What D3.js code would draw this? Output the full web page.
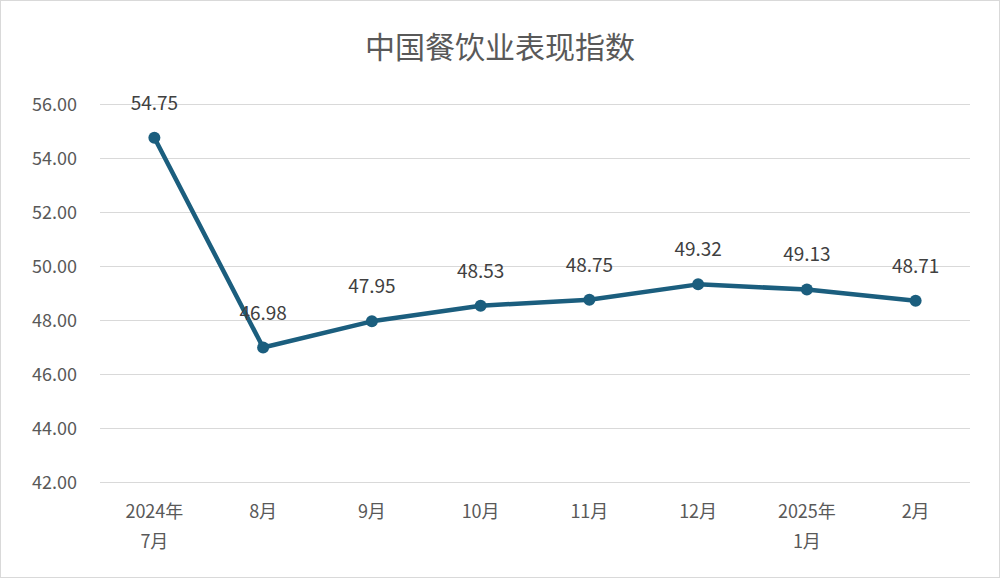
<!DOCTYPE html>
<html>
<head>
<meta charset="utf-8">
<script src="https://cdn.jsdelivr.net/npm/d3@7"></script>
<style>
  body { margin: 0; background: #fff; }
  svg { font-family: "Noto Sans CJK SC", "Noto Sans", sans-serif; }
</style>
</head>
<body>
<svg id="chart" width="1000" height="578"></svg>
<script>
var categories = [["2024年", "7月"], ["8月"], ["9月"], ["10月"], ["11月"], ["12月"], ["2025年", "1月"], ["2月"]];
var values = [54.75, 46.98, 47.95, 48.53, 48.75, 49.32, 49.13, 48.71];
var yTicks = [42, 44, 46, 48, 50, 52, 54, 56];

var svg = d3.select("#chart");
svg.append("rect").attr("x", 0.5).attr("y", 0.5).attr("width", 999).attr("height", 577)
  .attr("fill", "#fff").attr("stroke", "#d9d9d9");

var x = d3.scaleBand().domain(d3.range(categories.length)).range([100, 970]);
var y = d3.scaleLinear().domain([42, 56]).range([482, 104]);

svg.append("text").attr("x", 500).attr("y", 58).attr("text-anchor", "middle")
  .attr("font-size", 30).attr("fill", "#595959").text("中国餐饮业表现指数");

svg.append("g").selectAll("line").data(yTicks).join("line")
  .attr("x1", 100).attr("x2", 970)
  .attr("y1", d => y(d) + 0.5).attr("y2", d => y(d) + 0.5)
  .attr("stroke", "#d9d9d9").attr("stroke-width", 1);

svg.append("g").selectAll("text").data(yTicks).join("text")
  .attr("x", 77).attr("y", d => y(d) + 7).attr("text-anchor", "end")
  .attr("font-size", 18).attr("fill", "#595959").text(d => d.toFixed(2));

var cx = i => x(i) + x.bandwidth() / 2;

var xl = svg.append("g").selectAll("text").data(categories).join("text")
  .attr("text-anchor", "middle").attr("font-size", 18).attr("fill", "#595959");
xl.each(function (d, i) {
  d3.select(this).selectAll("tspan").data(d).join("tspan")
    .attr("x", cx(i)).attr("y", (t, j) => 518 + j * 30).text(t => t);
});

var line = d3.line().x((d, i) => cx(i)).y(d => y(d));
svg.append("path").datum(values).attr("d", line)
  .attr("fill", "none").attr("stroke", "#1b5e7e").attr("stroke-width", 4.5)
  .attr("stroke-linejoin", "round");

svg.append("g").selectAll("circle").data(values).join("circle")
  .attr("cx", (d, i) => cx(i)).attr("cy", d => y(d)).attr("r", 6)
  .attr("fill", "#1b5e7e");

svg.append("g").selectAll("text").data(values).join("text")
  .attr("x", (d, i) => cx(i)).attr("y", d => y(d) - 28).attr("text-anchor", "middle")
  .attr("font-size", 19).attr("fill", "#404040").text(d => d.toFixed(2));
</script>
</body>
</html>
